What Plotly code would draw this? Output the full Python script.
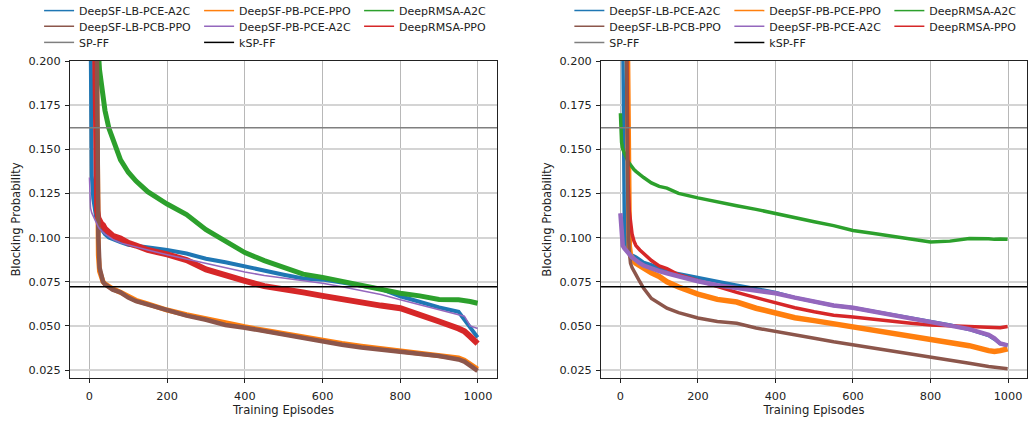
import plotly.graph_objects as go

# ---------------- data ----------------
episodes = [0, 3, 6, 10, 14, 17, 20, 23, 26, 30, 35, 40, 50, 60, 80, 100, 120, 150, 200, 250,
            300, 350, 400, 450, 500, 550, 600, 650, 700, 750, 800, 850, 900, 950, 965, 980, 999]

# left panel
left_lb_pce_a2c = [0.30, 0.20, 0.135, 0.122, 0.115, 0.112, 0.110, 0.108, 0.106, 0.105, 0.1035, 0.102, 0.100,
                   0.099, 0.0975, 0.096, 0.0955, 0.0945, 0.093, 0.091, 0.088, 0.086, 0.0835, 0.081, 0.079,
                   0.0768, 0.0762, 0.0745, 0.0728, 0.071, 0.0668, 0.0635, 0.0605, 0.058, 0.0535, 0.049, 0.0435]
left_pb_pce_ppo = [0.40, 0.40, 0.40, 0.38, 0.30, 0.20, 0.12, 0.09, 0.081, 0.077, 0.075, 0.0738, 0.0722,
                   0.071, 0.069, 0.0665, 0.0645, 0.0625, 0.059, 0.0563, 0.054, 0.0513, 0.0495, 0.0475, 0.0456,
                   0.0435, 0.0415, 0.040, 0.0385, 0.0372, 0.0362, 0.035, 0.0338, 0.0318, 0.0305, 0.0285, 0.0255]
left_rmsa_a2c = [0.40, 0.40, 0.40, 0.40, 0.35, 0.28, 0.23, 0.205, 0.195, 0.187, 0.178, 0.172, 0.162,
                 0.156, 0.144, 0.137, 0.132, 0.126, 0.119, 0.113, 0.1045, 0.098, 0.0915, 0.087, 0.0835,
                 0.0793, 0.0775, 0.0752, 0.073, 0.0707, 0.0685, 0.067, 0.065, 0.0648, 0.0646, 0.0638, 0.0628]
left_lb_pcb_ppo = [0.40, 0.40, 0.40, 0.40, 0.35, 0.25, 0.15, 0.10, 0.083, 0.078, 0.075, 0.0735, 0.072,
                   0.0705, 0.069, 0.066, 0.064, 0.062, 0.0585, 0.0558, 0.0535, 0.0505, 0.049, 0.047, 0.045,
                   0.0428, 0.041, 0.0393, 0.0378, 0.0365, 0.0354, 0.0343, 0.033, 0.031, 0.0298, 0.0275, 0.0245]
left_pb_pce_a2c = [0.134, 0.1166, 0.114, 0.112, 0.110, 0.108, 0.107, 0.106, 0.105, 0.104, 0.103, 0.102, 0.1005,
                   0.099, 0.097, 0.0958, 0.0948, 0.093, 0.0903, 0.0878, 0.0852, 0.0828, 0.0805, 0.0786, 0.0772,
                   0.0757, 0.0742, 0.0722, 0.070, 0.0678, 0.0648, 0.062, 0.059, 0.0565, 0.0555, 0.050, 0.0485]
left_rmsa_ppo = [0.40, 0.40, 0.40, 0.35, 0.22, 0.124, 0.115, 0.111, 0.109, 0.108, 0.107, 0.105, 0.103,
                 0.101, 0.0995, 0.097, 0.0955, 0.093, 0.0905, 0.0873, 0.082, 0.0785, 0.0755, 0.0725, 0.071,
                 0.069, 0.067, 0.065, 0.063, 0.0615, 0.060, 0.0565, 0.0525, 0.0485, 0.047, 0.044, 0.040]

# right panel
right_lb_pce_a2c = [0.40, 0.35, 0.22, 0.11, 0.094, 0.0925, 0.0915, 0.091, 0.0905, 0.0902, 0.0895, 0.089, 0.0875,
                    0.086, 0.0845, 0.0825, 0.0807, 0.0795, 0.0775, 0.075, 0.073, 0.071, 0.069, 0.066, 0.0638,
                    0.0616, 0.0603, 0.0583, 0.0566, 0.0547, 0.0525, 0.0505, 0.048, 0.0445, 0.0425, 0.040, 0.039]
right_pb_pce_ppo = [0.40, 0.40, 0.40, 0.38, 0.30, 0.20, 0.12, 0.095, 0.090, 0.088, 0.0865, 0.0855, 0.084,
                    0.0825, 0.080, 0.078, 0.075, 0.072, 0.068, 0.065, 0.0635, 0.060, 0.057, 0.0546, 0.053,
                    0.0512, 0.0496, 0.048, 0.0463, 0.0442, 0.042, 0.0405, 0.0388, 0.036, 0.0355, 0.036, 0.037]
right_rmsa_a2c = [0.1704, 0.154, 0.150, 0.1475, 0.146, 0.1445, 0.143, 0.142, 0.141, 0.140, 0.1385, 0.1375, 0.1355,
                  0.134, 0.131, 0.129, 0.128, 0.125, 0.1225, 0.1205, 0.118, 0.116, 0.1135, 0.1112, 0.109,
                  0.1068, 0.104, 0.1025, 0.1008, 0.099, 0.0975, 0.098, 0.0995, 0.0993, 0.099, 0.0992, 0.099]
right_lb_pcb_ppo = [0.40, 0.40, 0.40, 0.38, 0.30, 0.16, 0.105, 0.092, 0.0855, 0.083, 0.0805, 0.079, 0.075,
                    0.0713, 0.0655, 0.0625, 0.060, 0.0575, 0.0545, 0.0525, 0.0515, 0.0488, 0.0467, 0.045, 0.043,
                    0.041, 0.0393, 0.0375, 0.0358, 0.034, 0.0326, 0.0305, 0.0288, 0.027, 0.0265, 0.026, 0.0258]
right_pb_pce_a2c = [0.1138, 0.097, 0.0955, 0.094, 0.093, 0.092, 0.091, 0.090, 0.0895, 0.0888, 0.088, 0.087, 0.0855,
                    0.0842, 0.0825, 0.081, 0.0798, 0.078, 0.0753, 0.073, 0.0715, 0.0705, 0.0685, 0.066, 0.0638,
                    0.0616, 0.0603, 0.0583, 0.0566, 0.0547, 0.0525, 0.0505, 0.0482, 0.045, 0.043, 0.040, 0.039]
right_rmsa_ppo = [0.40, 0.40, 0.40, 0.35, 0.25, 0.18, 0.13, 0.115, 0.107, 0.102, 0.098, 0.0955, 0.093,
                  0.091, 0.087, 0.084, 0.0825, 0.079, 0.0755, 0.072, 0.069, 0.066, 0.063, 0.0603, 0.058,
                  0.056, 0.055, 0.0537, 0.0527, 0.0515, 0.0505, 0.050, 0.0495, 0.0493, 0.049, 0.049, 0.0497]

sp_ff = 0.1622    # SP-FF baseline (both panels)
ksp_ff = 0.0722   # kSP-FF baseline (both panels)

x_ticks = [0, 200, 400, 600, 800, 1000]
y_ticks = [0.025, 0.050, 0.075, 0.100, 0.125, 0.150, 0.175, 0.200]

# ---------------- styling ----------------
colors = {
    "DeepSF-LB-PCE-A2C": "#1f77b4",
    "DeepSF-PB-PCE-PPO": "#ff7f0e",
    "DeepRMSA-A2C": "#2ca02c",
    "DeepSF-LB-PCB-PPO": "#8c564b",
    "DeepSF-PB-PCE-A2C": "#9467bd",
    "DeepRMSA-PPO": "#d62728",
    "SP-FF": "#7f7f7f",
    "kSP-FF": "#000000",
}

panels = [
    {"xa": "x", "ya": "y", "data": {
        "DeepSF-LB-PCE-A2C": (left_lb_pce_a2c, 4),
        "DeepSF-PB-PCE-PPO": (left_pb_pce_ppo, 5),
        "DeepRMSA-A2C": (left_rmsa_a2c, 5),
        "DeepRMSA-PPO": (left_rmsa_ppo, 6),
        "DeepSF-LB-PCB-PPO": (left_lb_pcb_ppo, 4.5),
        "DeepSF-PB-PCE-A2C": (left_pb_pce_a2c, 1.5),
    }},
    {"xa": "x2", "ya": "y2", "data": {
        "DeepSF-LB-PCE-A2C": (right_lb_pce_a2c, 3.5),
        "DeepSF-PB-PCE-PPO": (right_pb_pce_ppo, 5.5),
        "DeepRMSA-A2C": (right_rmsa_a2c, 3.5),
        "DeepRMSA-PPO": (right_rmsa_ppo, 3.5),
        "DeepSF-LB-PCB-PPO": (right_lb_pcb_ppo, 3.5),
        "DeepSF-PB-PCE-A2C": (right_pb_pce_a2c, 4.5),
    }},
]

fig = go.Figure()

for p in panels:
    for name, (vals, w) in p["data"].items():
        fig.add_trace(go.Scatter(
            x=episodes, y=vals, mode="lines", name=name, showlegend=False,
            line=dict(color=colors[name], width=w),
            xaxis=p["xa"], yaxis=p["ya"], hoverinfo="skip"))

# legend rows (one horizontal legend per row, per panel)
legend_rows = [
    ["DeepSF-LB-PCE-A2C", "DeepSF-PB-PCE-PPO", "DeepRMSA-A2C"],
    ["DeepSF-LB-PCB-PPO", "DeepSF-PB-PCE-A2C", "DeepRMSA-PPO"],
    ["SP-FF", "kSP-FF"],
]
row_y = [1.159, 1.1095, 1.0587]
panel_legend_x = [-0.0323, 0.5218]

layout_legends = {}
k = 0
for pi, px in enumerate(panel_legend_x):
    for ri, row in enumerate(legend_rows):
        k += 1
        lname = "legend" if k == 1 else f"legend{k}"
        for name in row:
            fig.add_trace(go.Scatter(
                x=[None], y=[None], mode="lines", name=name, legend=lname,
                line=dict(color=colors[name], width=1.5),
                xaxis=panels[pi]["xa"], yaxis=panels[pi]["ya"]))
        layout_legends[lname] = dict(
            orientation="h", x=px, xanchor="left", y=row_y[ri], yanchor="middle",
            entrywidth=115, entrywidthmode="pixels", bgcolor="rgba(0,0,0,0)",
            font=dict(family="DejaVu Sans", size=11, color="#222222"),
            traceorder="normal", itemclick=False, itemdoubleclick=False)

for p in panels:
    for val, cname in ((sp_ff, "SP-FF"), (ksp_ff, "kSP-FF")):
        fig.add_shape(type="line", xref=f"{p['xa']} domain", yref=p["ya"],
                      x0=0, x1=1, y0=val, y1=val, layer="above",
                      line=dict(color=colors[cname], width=1.5))

tick_font = dict(family="DejaVu Sans", size=11.3, color="#222222")
title_font = dict(family="DejaVu Sans", size=11.6, color="#222222")
xcommon = dict(range=[-50, 1049], tickvals=x_ticks, ticks="outside", ticklen=4, tickcolor="#222222",
               showline=True, mirror=True, linecolor="#222222", linewidth=1, ticklabelstandoff=3,
               showgrid=True, gridcolor="#b8b8b8", gridwidth=1, zeroline=False,
               tickfont=tick_font, title=dict(text="Training Episodes", font=title_font, standoff=2))
ycommon = dict(range=[0.0205, 0.2], tickvals=y_ticks, tickformat=".3f", ticks="outside", ticklen=4,
               tickcolor="#222222", showline=True, mirror=True, linecolor="#222222", linewidth=1,
               ticklabelstandoff=2,
               showgrid=True, gridcolor="#d4d4d4", gridwidth=1.5, zeroline=False,
               tickfont=tick_font, title=dict(text="Blocking Probability", font=title_font, standoff=5))

fig.update_layout(
    width=1033, height=423,
    margin=dict(l=70, r=6, t=61, b=45, autoexpand=False),
    paper_bgcolor="white", plot_bgcolor="white",
    font=dict(family="DejaVu Sans", size=11, color="#222222"),
    hovermode=False,
    xaxis=dict(domain=[0, 0.4462], anchor="y", **xcommon),
    yaxis=dict(domain=[0, 1], anchor="x", **ycommon),
    xaxis2=dict(domain=[0.5549, 1], anchor="y2", **xcommon),
    yaxis2=dict(domain=[0, 1], anchor="x2", **ycommon),
    **layout_legends,
)

fig.write_html("out.html", config={"displayModeBar": False},
               post_script="document.body.style.margin='0';")
